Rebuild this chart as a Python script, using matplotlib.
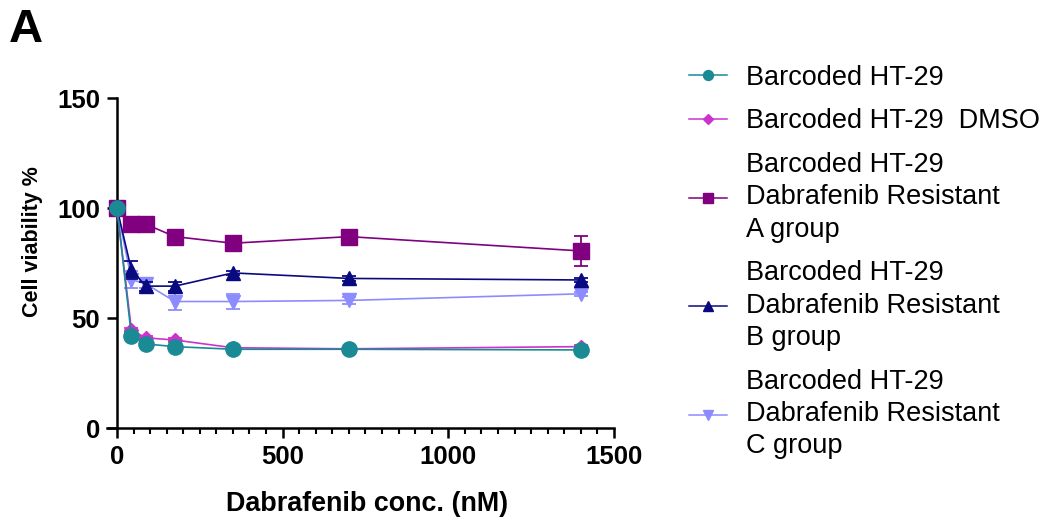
import matplotlib
matplotlib.use('Agg')
import matplotlib.pyplot as plt
from matplotlib.lines import Line2D
from matplotlib.ticker import MultipleLocator

plt.rcParams['font.family'] = ['Liberation Sans', 'DejaVu Sans']

# 浓度 (nM)
conc = [0, 43.75, 87.5, 175, 350, 700, 1400]

# 各组细胞活力 %
ht29 = [100, 41.8, 38.2, 37.0, 35.8, 35.8, 35.5]
ht29_err = [0, 1.0, 0.8, 0.8, 0.6, 0.6, 0.8]
dmso = [100, 44.5, 41.0, 40.0, 36.5, 36.0, 37.0]
dmso_err = [0, 1.0, 0.8, 0.8, 0.6, 0.6, 0.8]
grp_a = [100, 92.6, 92.6, 87.0, 84.0, 87.0, 80.5]
grp_a_err = [0, 1.0, 1.0, 2.0, 2.0, 2.5, 7.0]
grp_b = [100, 71.8, 64.5, 64.5, 70.5, 68.0, 67.3]
grp_b_err = [0, 4.0, 2.0, 2.0, 1.0, 1.0, 1.0]
grp_c = [100, 67.5, 65.5, 57.5, 57.5, 58.0, 61.0]
grp_c_err = [0, 4.0, 2.0, 4.0, 3.5, 1.5, 1.0]

labels = ['Barcoded HT-29',
          'Barcoded HT-29  DMSO',
          'Barcoded HT-29\nDabrafenib Resistant\nA group',
          'Barcoded HT-29\nDabrafenib Resistant\nB group',
          'Barcoded HT-29\nDabrafenib Resistant\nC group']
colors = ['#1a8a94', '#cc33cc', '#800080', '#0a0a80', '#8c8cff']
markers = ['o', 'D', 's', '^', 'v']
msizes = [11, 7.5, 11, 10, 10]

series = [(ht29, ht29_err), (dmso, dmso_err), (grp_a, grp_a_err),
          (grp_b, grp_b_err), (grp_c, grp_c_err)]
zorders = [10, 9, 8, 7, 6]

fig = plt.figure(figsize=(10.49, 5.17), dpi=100)
ax = fig.add_axes([0.102, 0.1721, 0.4833, 0.6383])

for (y, e), c, m, ms, z in zip(series, colors, markers, msizes, zorders):
    ax.errorbar(conc, y, yerr=e, color=c, marker=m, markersize=ms, lw=1.2,
                elinewidth=1.3, capsize=5, capthick=1.3, zorder=z,
                clip_on=False)

ax.set_xlim(-30, 1500)
ax.set_ylim(0, 150)
ax.spines['left'].set_position(('data', 0))
ax.spines['right'].set_visible(False)
ax.spines['top'].set_visible(False)
for s in ['left', 'bottom']:
    ax.spines[s].set_linewidth(1.8)
ax.set_xticks([0, 500, 1000, 1500])
ax.set_yticks([0, 50, 100, 150])
ax.xaxis.set_minor_locator(MultipleLocator(50))
ax.tick_params(which='major', length=7, width=1.8, labelsize=18.5, pad=5)
ax.tick_params(which='minor', length=4.5, width=1.5)
for lab in ax.get_xticklabels() + ax.get_yticklabels():
    lab.set_fontweight('bold')

ax.set_xlabel('Dabrafenib conc. (nM)', fontsize=19.4, fontweight='bold')
ax.xaxis.set_label_coords(0.512, -0.19)
fig.text(0.031, 0.532, 'Cell viability %', rotation=90, fontsize=15.5,
         fontweight='bold', ha='center', va='center')
fig.text(0.008, 0.985, 'A', fontsize=34, fontweight='bold', ha='left', va='top')

handles = [Line2D([0], [0], color=c, marker=m, markersize=ms * 0.65, lw=1.1)
           for c, m, ms in zip(colors, markers, msizes)]
leg = fig.legend(handles, labels, loc='upper left', bbox_to_anchor=(0.657, 0.875),
                 frameon=False, fontsize=19.5, handlelength=1.4, handletextpad=0.7,
                 labelspacing=0.65, borderpad=0, borderaxespad=0)
for t in leg.get_texts():
    t.set_linespacing(1.32)

plt.savefig('out.png', dpi=100)
